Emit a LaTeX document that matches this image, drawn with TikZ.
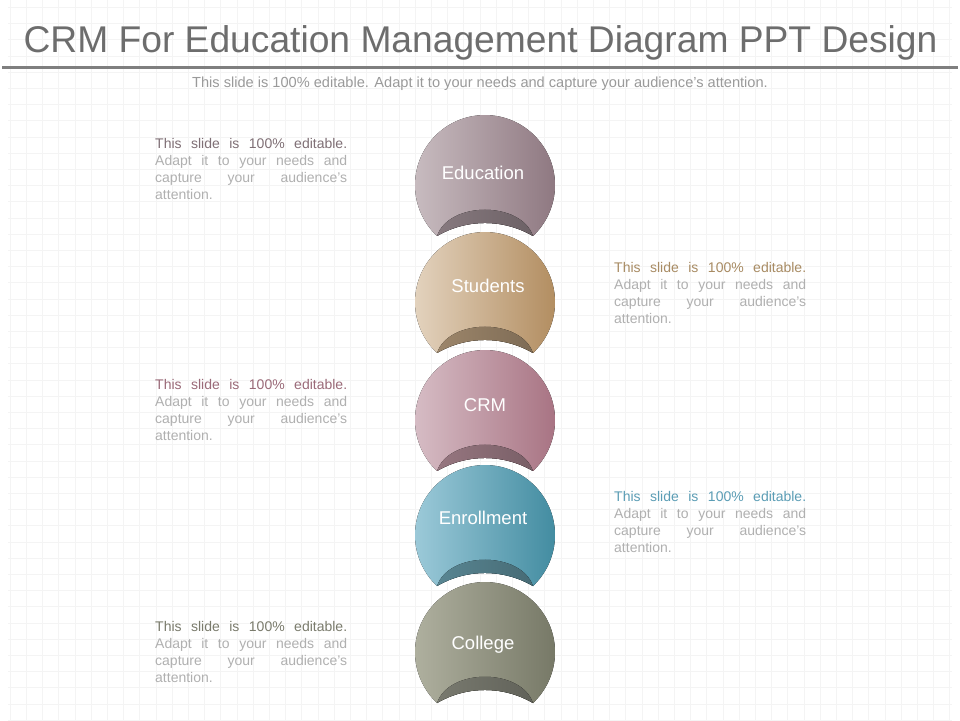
\documentclass[tikz,border=0pt]{standalone}
\usepackage{fontspec}
\setmainfont{Liberation Sans}
\usetikzlibrary{calc}
\definecolor{gridc}{HTML}{F4F4F4}
\definecolor{titlec}{HTML}{6D6D6D}
\definecolor{rulec}{HTML}{7F7F7F}
\definecolor{subc}{HTML}{9A9A9A}
\definecolor{bodyc}{HTML}{B0B0B0}
\definecolor{midgray}{HTML}{808080}
\definecolor{eduL}{HTML}{C9BDC1}\definecolor{eduR}{HTML}{8C757E}\definecolor{eduT}{HTML}{7F6F75}
\definecolor{stuL}{HTML}{E4D4C0}\definecolor{stuR}{HTML}{B08A5C}\definecolor{stuT}{HTML}{A88B63}
\definecolor{crmL}{HTML}{D7BEC6}\definecolor{crmR}{HTML}{A67080}\definecolor{crmT}{HTML}{9A6A78}
\definecolor{enrL}{HTML}{9ECBDA}\definecolor{enrR}{HTML}{3E899E}\definecolor{enrT}{HTML}{5B9DB5}
\definecolor{colL}{HTML}{B0B1A0}\definecolor{colR}{HTML}{747664}\definecolor{colT}{HTML}{7A7B6C}
\newcommand\crmshape[3]{%
  \begin{scope}[shift={(485,#1)}]
    \fill[left color=#2, right color=#3]
      (48,-51) arc[start angle=-46.7, end angle=226.7, radius=70]
      arc[start angle=120.35, end angle=59.65, radius=95] -- cycle;
    \fill[left color=#3!60!midgray, right color=#3!60!midgray!80!black]
      (-48,-51) .. controls (-36,-16) and (36,-16) .. (48,-51)
      arc[start angle=59.65, end angle=120.35, radius=95] -- cycle;
  \end{scope}}
\newcommand\crmblock[4]{%
  \node[anchor=base west, inner sep=0pt, text=bodyc, font=\fontsize{14}{17}\selectfont] (#4) at (#1,#2)
  {\vtop{\hsize=192pt\baselineskip=17pt\lineskiplimit=0pt\parindent=0pt
    \hbox to 192pt{\color{#3}This \hfill slide \hfill is \hfill 100\% \hfill editable.}
    \hbox to 192pt{Adapt \hfill it \hfill to \hfill your \hfill needs \hfill and}
    \hbox to 192pt{capture \hfill your \hfill audience's}
    \hbox to 192pt{attention.\hfill}}};}
\tikzset{
  lbl/.style={text=white, font=\fontsize{18.5}{20}\selectfont, inner sep=0pt}
}
\begin{document}
\begin{tikzpicture}[x=1pt,y=1pt]
\useasboundingbox (0,0) rectangle (960,720);
\fill[white] (0,0) rectangle (960,720);
\begin{scope}[shift={(10,-0.1)}]
  \draw[gridc, line width=0.6pt, step=16.2] (-2,0) grid (942,720);
\end{scope}
% title
\node[anchor=base, text=titlec, font=\fontsize{37.2}{40}\selectfont, inner sep=0pt] (title) at (480.5,667) {CRM For Education Management Diagram PPT Design};
\draw[rulec, line width=3pt] (2,652) -- (958,652);
\node[anchor=base, text=subc, font=\fontsize{14.6}{16}\selectfont, inner sep=0pt] (sub) at (480,632) {This slide is 100\% editable. Adapt it to your needs and capture your audience's attention.};
% shapes
\crmshape{535}{eduL}{eduR}
\crmshape{418}{stuL}{stuR}
\crmshape{300}{crmL}{crmR}
\crmshape{185}{enrL}{enrR}
\crmshape{68}{colL}{colR}
% labels
\node[lbl] (education) at (483,547) {Education};
\node[lbl] (students) at (488,434) {Students};
\node[lbl] (crm) at (485,315) {CRM};
\node[lbl] (enrollment) at (483,202) {Enrollment};
\node[lbl] (college) at (483,75) {College};
% text blocks
\crmblock{155}{571}{eduT}{t1}
\crmblock{614}{447}{stuT}{t2}
\crmblock{155}{330}{crmT}{t3}
\crmblock{614}{218}{enrT}{t4}
\crmblock{155}{89}{colT}{t5}
\end{tikzpicture}
\end{document}
